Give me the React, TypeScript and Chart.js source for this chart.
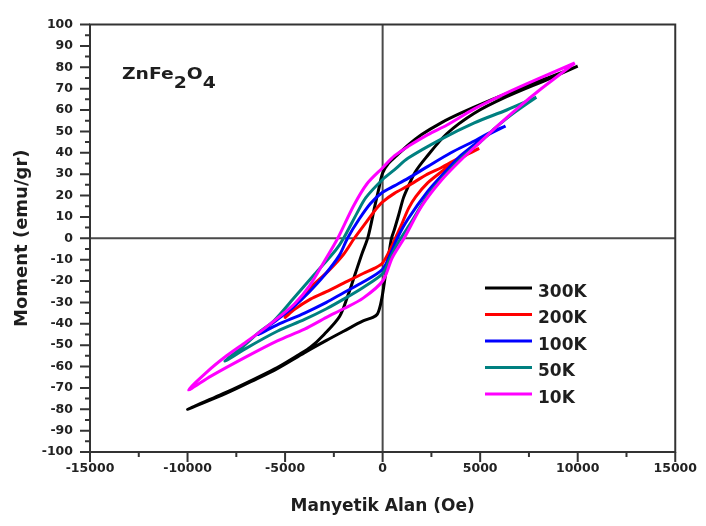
import React, { useEffect, useRef } from "react";
import { Chart, registerables } from "chart.js";

Chart.register(...registerables);

// ---- Data ----
const seriesLabels = ["300K", "200K", "100K", "50K", "10K"];
const seriesColors = ["#000000", "#ff0000", "#0000ff", "#008080", "#ff00ff"];

const xTicks = [-15000, -10000, -5000, 0, 5000, 10000, 15000];
const xTickLabels = ["-15000", "-10000", "-5000", "0", "5000", "10000", "15000"];
const xMinorTicks = [-12500, -7500, -2500, 2500, 7500, 12500];
const yTicks = [-100, -90, -80, -70, -60, -50, -40, -30, -20, -10, 0, 10, 20, 30, 40, 50, 60, 70, 80, 90, 100];
const yTickLabels = ["-100", "-90", "-80", "-70", "-60", "-50", "-40", "-30", "-20", "-10", "0", "10", "20", "30", "40", "50", "60", "70", "80", "90", "100"];
const yMinorTicks = [-95, -85, -75, -65, -55, -45, -35, -25, -15, -5, 5, 15, 25, 35, 45, 55, 65, 75, 85, 95];

// 300K
const field300K = [10000, 8600, 7000, 5500, 4000, 3000, 2000, 1300, 700, 300, 0, -200, -400, -750, -1050, -1400, -1750, -2200, -3000, -3700, -4300, -5400, -6500, -8000, -10000,
  -8000, -6500, -5400, -4000, -2880, -2000, -1000, -500, -270, -120, 0, 150, 300, 455, 600, 825, 1070, 1300, 1670, 2200, 3300, 4700, 6300, 8500, 10000];
const moment300K = [80.5, 75.5, 70, 64.5, 58.5, 54, 48.5, 43.5, 38.5, 35, 30.5, 23, 15, 0.5, -7, -16.5, -26, -36.5, -45, -51, -54.5, -60.5, -65.5, -72, -80,
  -72.5, -66, -61, -53.5, -47.8, -43.5, -38.7, -37, -35.5, -31.5, -26, -17, -8.5, 0, 4, 11, 19, 24, 31, 37.5, 49, 58.5, 66, 74.5, 80.5];

// 200K
const field200K = [4950, 4000, 3000, 2300, 1300, 600, 0, -350, -800, -1450, -2000, -2800, -3700, -4300, -5000,
  -4550, -3700, -2880, -2000, -1000, -400, 0, 400, 700, 1000, 1330, 1700, 2320, 3000, 3700, 4400, 4950];
const moment200K = [42, 38, 33, 30, 24.5, 21, 17, 13.5, 8, 0, -7.5, -15.5, -23, -29, -37,
  -33.5, -28.5, -25, -21, -16.5, -14, -11.5, -5, 1, 7, 14, 19.5, 26, 31, 35.5, 39.5, 42];

// 100K
const field100K = [6300, 5300, 4700, 3500, 2300, 1300, 600, 0, -600, -1200, -1800, -2220, -3000, -3800, -4550, -5400, -6400,
  -5400, -4000, -2880, -2000, -1000, 0, 400, 750, 1300, 2320, 3200, 4040, 5350, 6300];
const moment100K = [52.5, 48.5, 45.5, 40, 33.5, 28, 24.5, 21.5, 16.5, 9, 0, -8, -17.5, -25.5, -32, -38, -45,
  -40.5, -35, -30, -25.5, -20.5, -14.5, -7.5, 0, 9, 22, 31, 39, 48, 52.5];

// 50K
const field50K = [7880, 6360, 4700, 3030, 1313, 600, 0, -860, -1300, -2000, -2400, -3500, -4550, -5560, -6400, -7200, -8080,
  -7000, -5400, -4000, -2880, -2000, -1000, 0, 400, 800, 1500, 2320, 3200, 4040, 5000, 5700, 6560, 7880];
const moment50K = [66, 60, 54, 46.5, 37.5, 32, 27.5, 19, 12, 0, -5.5, -17, -28, -38.5, -44.5, -51, -57.5,
  -51.5, -43.5, -38, -33, -28.5, -23, -16.5, -9, -2, 8, 20, 29.5, 37.5, 45, 51, 57.5, 66];

// 10K
const field10K = [9850, 8080, 6360, 4700, 3300, 2320, 1313, 600, 0, -800, -1500, -2300, -3000, -3730, -4500, -5400, -6100, -7000, -8000, -9000, -9950,
  -8800, -7000, -5400, -4000, -2880, -2000, -1000, 0, 500, 1100, 2000, 3000, 4000, 5000, 6000, 7000, 8000, 9000, 9850];
const moment10K = [82, 75, 68, 60.5, 53, 48.5, 43, 38.5, 33, 25.5, 15, 0, -11, -22, -30.5, -37.5, -42.5, -48.5, -55, -62.5, -71,
  -64.5, -55.5, -48, -42.5, -37, -33, -28, -20, -9, 0, 15, 27, 36.5, 45, 53.5, 61.5, 69, 76, 82];

const seriesFields = [field300K, field200K, field100K, field50K, field10K];
const seriesMoments = [moment300K, moment200K, moment100K, moment50K, moment10K];

const xTitle = "Manyetik Alan (Oe)";
const yTitle = "Moment (emu/gr)";
const formulaParts = [
  { text: "ZnFe", sub: false },
  { text: "2", sub: true },
  { text: "O", sub: false },
  { text: "4", sub: true },
];

const FONT = "'DejaVu Sans', 'Verdana', sans-serif";

const decorPlugin = {
  id: "decor",
  beforeDatasetsDraw(chart: any) {
    const { ctx, chartArea: a, scales } = chart;
    const x0 = scales.x.getPixelForValue(0);
    const y0 = scales.y.getPixelForValue(0);
    ctx.save();
    ctx.strokeStyle = "#4a4a4a";
    ctx.lineWidth = 2;
    ctx.beginPath();
    ctx.moveTo(x0, a.top);
    ctx.lineTo(x0, a.bottom);
    ctx.moveTo(a.left, y0);
    ctx.lineTo(a.right, y0);
    ctx.stroke();
    ctx.restore();
  },
  afterDraw(chart: any) {
    const { ctx, chartArea: a, scales } = chart;
    const xs = scales.x;
    const ys = scales.y;
    ctx.save();
    // frame
    ctx.strokeStyle = "#333333";
    ctx.lineWidth = 2;
    ctx.strokeRect(a.left, a.top, a.right - a.left, a.bottom - a.top);
    // ticks
    ctx.beginPath();
    yTicks.forEach((v) => {
      const p = ys.getPixelForValue(v);
      ctx.moveTo(a.left - 10, p);
      ctx.lineTo(a.left, p);
    });
    yMinorTicks.forEach((v) => {
      const p = ys.getPixelForValue(v);
      ctx.moveTo(a.left - 5, p);
      ctx.lineTo(a.left, p);
    });
    xTicks.forEach((v) => {
      const p = xs.getPixelForValue(v);
      ctx.moveTo(p, a.bottom);
      ctx.lineTo(p, a.bottom + 10);
    });
    xMinorTicks.forEach((v) => {
      const p = xs.getPixelForValue(v);
      ctx.moveTo(p, a.bottom);
      ctx.lineTo(p, a.bottom + 5);
    });
    ctx.stroke();

    // legend
    const lx = 485;
    const ly = 288;
    ctx.font = `bold 17px ${FONT}`;
    ctx.textBaseline = "alphabetic";
    ctx.textAlign = "left";
    seriesLabels.forEach((label, i) => {
      const yy = ly + i * 26.5;
      ctx.strokeStyle = seriesColors[i];
      ctx.lineWidth = 3;
      ctx.beginPath();
      ctx.moveTo(lx, yy);
      ctx.lineTo(lx + 47, yy);
      ctx.stroke();
      ctx.fillStyle = "#1e1e1e";
      ctx.fillText(label, lx + 53, yy + 8.5);
    });

    // formula ZnFe2O4 (horizontally stretched like the original)
    ctx.save();
    ctx.translate(122, 79);
    ctx.scale(1.25, 1);
    ctx.font = `bold 15px ${FONT}`;
    ctx.fillStyle = "#1e1e1e";
    let cx = 0;
    formulaParts.forEach((part) => {
      ctx.fillText(part.text, cx, part.sub ? 9 : 0);
      cx += ctx.measureText(part.text).width;
    });
    ctx.restore();
    ctx.restore();
  },
};

export default function App() {
  const canvasRef = useRef<HTMLCanvasElement | null>(null);

  useEffect(() => {
    document.body.style.margin = "0";
    const canvas = canvasRef.current;
    if (!canvas) return;

    const datasets = seriesLabels.map((label, i) => ({
      label,
      data: seriesFields[i].map((xv, j) => ({ x: xv, y: seriesMoments[i][j] })),
      borderColor: seriesColors[i],
      backgroundColor: seriesColors[i],
      borderWidth: 3,
      pointRadius: 0,
      showLine: true,
      tension: 0.3,
      fill: false,
      order: seriesLabels.length - i,
    }));

    const chart = new Chart(canvas, {
      type: "scatter",
      data: { datasets },
      plugins: [decorPlugin],
      options: {
        animation: false,
        responsive: false,
        devicePixelRatio: 1,
        layout: { padding: { left: 0, top: 13, right: 22, bottom: 0 } },
        plugins: {
          legend: { display: false },
          tooltip: { enabled: false },
        },
        scales: {
          x: {
            type: "linear",
            min: -15000,
            max: 15000,
            afterBuildTicks: (scale: any) => {
              scale.ticks = xTicks.map((v) => ({ value: v }));
            },
            afterFit: (scale: any) => {
              scale.height = 74;
            },
            grid: { display: false, drawTicks: false },
            border: { display: false },
            ticks: {
              padding: 9,
              autoSkip: false,
              maxRotation: 0,
              color: "#222222",
              font: { family: FONT, weight: "bold", size: 12.5 },
              callback: (_v: any, i: number) => xTickLabels[i],
            },
            title: {
              display: true,
              text: xTitle,
              color: "#1e1e1e",
              font: { family: FONT, weight: "bold", size: 17 },
              padding: { top: 0, bottom: 9 },
            },
          },
          y: {
            type: "linear",
            min: -100,
            max: 100,
            afterBuildTicks: (scale: any) => {
              scale.ticks = yTicks.map((v) => ({ value: v }));
            },
            afterFit: (scale: any) => {
              scale.width = 90;
            },
            grid: { display: false, drawTicks: false },
            border: { display: false },
            ticks: {
              padding: 17,
              autoSkip: false,
              color: "#222222",
              font: { family: FONT, weight: "bold", size: 12.5 },
              callback: (_v: any, i: number) => yTickLabels[i],
            },
            title: {
              display: true,
              text: yTitle,
              color: "#1e1e1e",
              font: { family: FONT, weight: "bold", size: 18 },
              padding: { top: 12, bottom: 0 },
            },
          },
        },
      } as any,
    });

    return () => chart.destroy();
  }, []);

  return (
    <div style={{ width: 706, height: 526, background: "#ffffff" }}>
      <canvas ref={canvasRef} width={706} height={526} style={{ display: "block" }} />
    </div>
  );
}
